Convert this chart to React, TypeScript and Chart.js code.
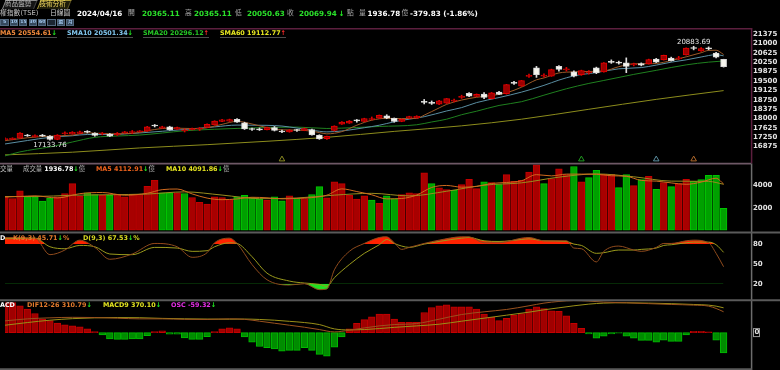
import React, { useEffect, useRef } from 'react';
import { Chart, registerables } from 'chart.js';

Chart.register(...registerables);

// ---------------- data ----------------
const OPEN = [17145,17160,17210,17340,17275,17340,17290,17160,17390,17380,
  17400,17470,17410,17380,17380,17340,17430,17440,17470,17490,
  17720,17610,17670,17570,17510,17550,17570,17640,17740,17880,
  17890,17970,17830,17590,17580,17550,17640,17500,17460,17540,
  17520,17560,17340,17190,17520,17770,17810,17920,17880,17960,
  18010,18110,18010,17880,18010,18020,18670,18640,18570,18610,
  18690,18840,19000,18880,18970,18790,19050,18990,19430,19290,
  19680,20020,19690,19690,20080,19940,19860,19750,19820,20020,
  19860,20260,20230,20220,20140,20190,20180,20370,20340,20410,
  20380,20540,20820,20700,20800,20610,20365.11];
const HIGH = [17225,17230,17435,17365,17350,17365,17320,17355,17470,17475,
  17495,17515,17430,17440,17400,17440,17480,17520,17515,17685,
  17760,17690,17690,17655,17580,17615,17640,17785,17910,17965,
  17975,17995,17850,17615,17620,17660,17680,17540,17555,17570,
  17620,17580,17350,17300,17710,17880,17920,17960,18010,18060,
  18140,18150,18020,17980,18090,18110,18760,18700,18720,18800,
  18770,18930,19030,18980,19030,19040,19080,19360,19480,19520,
  19770,20080,19780,19970,20110,20040,19900,19930,19910,20050,
  20230,20340,20290,20420,20210,20220,20370,20400,20530,20450,
  20480,20820,20883.69,20830,20860,20640,20365.11];
const LOW = [17140,17150,17200,17285,17250,17280,17133.76,17150,17360,17370,
  17390,17420,17290,17350,17280,17320,17410,17400,17460,17480,
  17660,17600,17530,17560,17460,17540,17520,17630,17730,17870,
  17880,17840,17560,17520,17520,17540,17500,17430,17450,17480,
  17510,17330,17165,17160,17500,17760,17800,17850,17870,17940,
  18000,17990,17850,17870,18000,18010,18580,18560,18550,18600,
  18660,18800,18870,18870,18790,18780,18950,18970,19360,19280,
  19640,19640,19650,19680,19890,19890,19660,19720,19770,19790,
  19850,20200,20170,19830,20100,20100,20170,20230,20330,20290,
  20350,20530,20740,20680,20740,20420,20050.63];
const CLOSE = [17200,17215,17420,17300,17298,17290,17160,17340,17430,17450,
  17470,17450,17320,17410,17290,17400,17460,17470,17500,17670,
  17700,17670,17550,17640,17530,17600,17610,17770,17900,17950,
  17960,17850,17580,17560,17545,17640,17520,17460,17540,17520,
  17600,17340,17180,17290,17700,17860,17900,17905,18000,17990,
  18130,18010,17880,17970,18080,18090,18640,18600,18700,18790,
  18720,18870,18890,18960,18840,19020,18960,19350,19400,19510,
  19710,19750,19720,19950,19960,19980,19690,19910,19850,19820,
  20220,20240,20210,20080,20170,20130,20350,20250,20520,20310,
  20420,20810,20795,20790,20780,20449.77,20069.94];
const VOLUME = [3027,2823,3505,2974,2974,2584,2850,2974,3266,4151,
  3027,3328,3177,3115,3115,3177,2974,3204,3177,3912,
  4443,3328,3328,3328,3266,2912,2469,2319,2974,2912,
  2735,2974,3115,2912,2761,2673,2974,2620,3062,2823,
  2823,3177,3885,2885,4301,4151,3115,2761,3062,2673,
  2381,3062,2823,3177,3328,3266,5124,4151,3770,3620,
  3558,4062,4531,3708,4301,4239,4062,4947,4354,4443,
  5186,5832,4151,4593,5478,4947,5682,4301,4682,5328,
  4974,4974,3797,4947,3974,4505,4797,3646,4239,3885,
  4151,4531,4354,4505,4885,4885,1936.78];
const OSC = [88,88,78.5,68.6,56,39.5,35,28,23,20,
  17,10.7,3,-7,-18.6,-19.8,-19.8,-18.6,-18.6,-8.7,
  2.9,4.8,-4.8,-4.8,-15.6,-19.8,-19.8,-12,3,10.7,
  13.6,10.7,-12.6,-28,-40.7,-44.6,-47.6,-54.4,-52.4,-52.4,
  -44.6,-52.4,-64,-69,-42.7,-12.6,10.7,27,37.8,46.5,
  54,54,39.5,30,30,30,59,73.6,78.5,81.4,
  75.6,75.6,75.6,68.6,54,44.5,35,41.6,51,56,
  68.6,75.6,70.7,64,62,49.4,27,12.5,-4,-16.6,
  -10.8,-4,-2,-10.8,-16.6,-23,-23,-28,-22,-26,
  -26,-7,3.8,3.8,2,-22,-59.32];

// moving-average / indicator lines, read as [day index, value]
const MA5_PTS = [[0,17112],[3,17230],[6,17294],[9,17334],[11,17428],[14,17388],[17,17406],[20,17560],[22,17618],[25,17598],[27,17630],[29,17766],[31,17886],[33,17780],[35,17635],[37,17545],[39,17536],[41,17492],[42,17436],[43,17386],[45,17474],[47,17731],[49,17931],[51,18007],[53,17996],[55,18006],[56,18132],[58,18422],[59,18564],[61,18736],[63,18846],[65,18916],[67,19026],[69,19248],[71,19544],[72,19618],[74,19818],[76,19860],[78,19878],[80,19898],[82,20068],[84,20184],[86,20188],[87,20196],[89,20312],[91,20462],[93,20625],[94,20719],[95,20725],[96,20554.61]];
const SMA10_PTS = [[0,16982],[3,17120],[6,17247],[9,17310],[11,17361],[14,17361],[18,17422],[21,17489],[24,17559],[28,17664],[31,17736],[33,17731],[35,17725],[37,17697],[39,17618],[41,17531],[43,17464],[45,17501],[48,17630],[50,17730],[52,17867],[54,17973],[56,18070],[59,18300],[61,18434],[63,18634],[66,18835],[69,19052],[72,19322],[74,19533],[76,19702],[79,19834],[82,19983],[85,20032],[87,20132],[89,20248],[91,20340],[93,20455],[95,20547],[96,20501.34]];
const SMA20_PTS = [[0,16506],[2,16665],[4,16770],[6,16863],[9,17060],[12,17246],[15,17300],[18,17338],[21,17420],[24,17508],[28,17570],[31,17603],[35,17643],[39,17655],[43,17600],[47,17640],[50,17681],[55,17748],[57,17860],[59,17971],[61,18150],[63,18290],[66,18520],[69,18670],[72,18930],[75,19186],[78,19400],[80,19518],[84,19760],[87,19922],[91,20140],[94,20250],[96,20296.12]];
const SMA60_PTS = [[0,16546],[9,16653],[18,16823],[27,16954],[35,17089],[43,17247],[52,17484],[61,17706],[69,17971],[78,18367],[87,18763],[96,19112.77]];
const VOL_MA5_PTS = [[0,2950],[2,3000],[4,3061],[7,2871],[10,3254],[13,3360],[16,3112],[19,3289],[21,3613],[23,3668],[25,3232],[27,2859],[29,2717],[31,2783],[33,2930],[35,2887],[37,2788],[39,2830],[41,2901],[43,3119],[45,3680],[47,3443],[49,3152],[51,2788],[53,2823],[55,3131],[57,3809],[59,3986],[61,3832],[63,3896],[65,4168],[67,4251],[69,4409],[71,4952],[73,4841],[75,5000],[77,5000],[79,4988],[81,4852],[83,4804],[85,4439],[87,4374],[89,4214],[91,4090],[93,4285],[95,4632],[96,4112.91]];
const VOL_MA10_PTS = [[0,3000],[4,3000],[9,3113],[14,3159],[19,3221],[24,3414],[29,3128],[34,2808],[39,2865],[44,3122],[49,3283],[54,3053],[59,3470],[64,4009],[69,4221],[74,4729],[79,5018],[84,4761],[89,4374],[94,4350],[96,4091.86]];
const K_PTS = [[0,90],[4,89],[6,64],[8,71],[10,86],[12,75],[14,57],[17,65],[20,81],[23,76],[25,60],[27,67],[28,82],[30,89],[31,81],[33,49],[35,26],[38,18],[40,20],[42,11],[43,12],[44,41],[46,69],[48,81],[50,90],[51,91],[52,82],[53,72],[54,75],[56,81],[58,86],[61,91],[62,91],[64,82],[66,82],[69,89],[70,90],[72,85],[75,85],[76,74],[77,73],[79,53],[80,69],[82,77],[84,71],[85,69],[87,75],[88,81],[89,81],[91,85],[92,86],[94,82],[95,66],[96,45.71]];
const D_PTS = [[0,88],[4,89],[6,76],[8,73],[10,78],[12,76],[14,65],[17,64],[20,75],[23,74],[25,69],[27,70],[28,76],[30,82],[31,81],[33,61],[35,36],[38,24],[40,21],[42,19],[43,16],[44,29],[46,49],[48,66],[50,79],[51,87],[52,81],[53,77],[54,75],[56,80],[58,84],[61,89],[62,90],[64,85],[66,84],[69,87],[70,88],[72,85],[75,84],[76,80],[77,78],[79,66],[80,67],[82,71],[84,71],[85,72],[87,74],[88,78],[89,79],[91,82],[92,83],[94,83],[95,79],[96,67.53]];
const DIF_PTS = [[0,175],[3,205],[6,220],[9,228],[12,225],[15,215],[18,205],[21,205],[24,198],[27,196],[30,205],[32,198],[34,170],[36,140],[38,110],[40,80],[42,45],[44,10],[46,35],[48,70],[50,100],[52,120],[55,135],[58,200],[61,270],[64,310],[67,345],[70,400],[72,440],[74,465],[76,478],[78,470],[80,455],[83,445],[86,432],[89,420],[92,410],[94,395],[95,360],[96,310.79]];
const SIGNAL_PTS = [[0,110],[3,150],[6,185],[9,208],[12,220],[15,225],[18,222],[21,212],[24,206],[27,202],[30,200],[32,202],[34,196],[36,185],[38,168],[40,150],[42,120],[44,55],[46,40],[48,45],[50,60],[52,78],[55,100],[58,125],[61,170],[64,215],[67,260],[70,305],[72,340],[74,370],[76,400],[78,425],[80,440],[83,445],[86,440],[89,432],[92,420],[94,410],[95,395],[96,370.10]];

const PRICE_TICKS = [21375,21000,20625,20250,19875,19500,19125,18750,18375,18000,17625,17250,16875];
const VOLUME_TICKS = [4000, 2000];
const KD_TICKS = [80, 50, 20];
const MACD_TICKS = [0];
const CROSS_IDX = [37, 77, 87, 92];
const CROSS_PRICE = 16370;

// ---------------- layout / style ----------------
const W = 780, H = 370;
const AREA = { top: 29, bottom: 368, right: 29 };
const X_MIN = 0, X_MAX = 99.66;
const PANELS = {
  price: { top: 29, bottom: 163, lo: 16269, hi: 21573 },
  volume: { top: 163, bottom: 231.9, lo: 0, hi: 6098 },
  kd: { top: 232.7, bottom: 299.3, lo: 0, hi: 100 },
  dif: { top: 300.7, bottom: 368, lo: -484, hi: 512 },
  osc: { top: 300.7, bottom: 368, lo: -95.1, hi: 100.6 },
};
function band(p: { top: number; bottom: number; lo: number; hi: number }) {
  const per = (p.hi - p.lo) / (p.bottom - p.top);
  return { min: p.lo - (AREA.bottom - p.bottom) * per, max: p.hi + (p.top - AREA.top) * per };
}
const CROSS_COLORS = ['#8a8a22', '#1f9a1f', '#5a8ea0', '#b0682a'];
const FONT = '"DejaVu Sans", "Noto Sans CJK TC", sans-serif';
const C = {
  red: '#ff2a2a', green: '#22ee22',
  ma5: '#9c5a28', sma10: '#5a8ea2', sma20: '#1f801f', sma60: '#8c8c1c',
  k: '#8e4a1c', d: '#9a9a1c', dif: '#9a521e', sig: '#9a9018',
  vma5: '#d06a1e', vma10: '#9a8c1e',
};

const pts = (a: number[][]) => a.map(([x, y]) => ({ x, y }));
const line = (a: number[][], axis: string, color: string, extra: any = {}) => ({
  type: 'line', yAxisID: axis, data: pts(a), borderColor: color, borderWidth: 1,
  pointRadius: 0, cubicInterpolationMode: 'monotone', fill: false, order: 1, ...extra,
});

const framePlugin = {
  id: 'frame',
  beforeDraw(chart: any) {
    const ctx = chart.ctx;
    ctx.save();
    ctx.fillStyle = '#000';
    ctx.fillRect(0, 0, chart.width, chart.height);
    ctx.restore();
  },
  afterDraw(chart: any) {
    const { ctx, scales, chartArea } = chart;
    const R = chartArea.right;
    ctx.save();
    const seg = (x0: number, y0: number, x1: number, y1: number, color: string, w: number) => {
      ctx.strokeStyle = color; ctx.lineWidth = w;
      ctx.beginPath(); ctx.moveTo(x0, y0); ctx.lineTo(x1, y1); ctx.stroke();
    };
    seg(0, 28.7, R + 1.2, 28.7, '#5c1f3e', 1.5);
    seg(R + 0.6, 28, R + 0.6, 163.5, '#5c1f3e', 1.5);
    seg(0, 163.6, R, 163.6, '#6e5866', 1.6);
    seg(R + 0.6, 163.5, R + 0.6, 370, '#6c6c6c', 1.5);
    seg(0, 232.6, W, 232.6, '#5a5a5a', 2);
    seg(0, 300.2, W, 300.2, '#5a5a5a', 2);
    seg(0, 369.2, R + 1, 369.2, '#5a5a5a', 2);

    ctx.font = `bold 7px ${FONT}`;
    ctx.fillStyle = '#e4e4e4';
    ctx.textAlign = 'left';
    ctx.textBaseline = 'middle';
    const lx = R + 2;
    PRICE_TICKS.forEach(v => ctx.fillText(String(v), lx, scales.yP.getPixelForValue(v)));
    VOLUME_TICKS.forEach(v => ctx.fillText(String(v), lx, scales.yV.getPixelForValue(v)));
    KD_TICKS.forEach(v => ctx.fillText(String(v), lx, scales.yK.getPixelForValue(v)));
    MACD_TICKS.forEach(v => {
      const y = scales.yO.getPixelForValue(v);
      ctx.fillText(String(v), lx + 1.5, y);
      ctx.strokeStyle = '#9a9a9a'; ctx.lineWidth = 1;
      ctx.strokeRect(lx + 0.5, y - 4, 6, 8);
    });

    // highest high / lowest low labels
    let hi = 0, lo = 0;
    HIGH.forEach((v, i) => { if (v > HIGH[hi]) hi = i; });
    LOW.forEach((v, i) => { if (v < LOW[lo]) lo = i; });
    ctx.font = `7px ${FONT}`;
    ctx.fillStyle = '#e8e8e8';
    ctx.textAlign = 'center';
    ctx.textBaseline = 'bottom';
    ctx.fillText(HIGH[hi].toFixed(2), scales.x.getPixelForValue(hi), scales.yP.getPixelForValue(HIGH[hi]) - 1);
    ctx.textBaseline = 'top';
    ctx.fillText(LOW[lo].toFixed(2), scales.x.getPixelForValue(lo), scales.yP.getPixelForValue(LOW[lo]) + 1.5);
    ctx.restore();
  },
};

function Txt(p: { x: number; cy: number; size?: number; bold?: boolean; color: string; lh?: number; underline?: boolean; children: any }) {
  const size = p.size ?? 6.4;
  const lh = p.lh ?? 1;
  const capMid = (lh - 1.164) / 2 + 0.928 - 0.365;
  return (
    <div style={{
      position: 'absolute', left: p.x, top: p.cy - capMid * size, fontSize: size,
      lineHeight: `${lh * size}px`, fontWeight: p.bold ? 700 : 400, color: p.color,
      whiteSpace: 'nowrap', fontFamily: FONT,
      borderBottom: p.underline ? '1.2px solid #4c4c4c' : undefined,
    }}>{p.children}</div>
  );
}
const Dn = () => <span style={{ color: C.green, fontWeight: 700 }}>↓</span>;
const Up = () => <span style={{ color: C.red, fontWeight: 700 }}>↑</span>;
const Gy = (p: { children: any }) => <span style={{ color: '#b8b8b8', fontWeight: 400 }}>{p.children}</span>;

export default function App() {
  const ref = useRef<HTMLCanvasElement>(null);
  useEffect(() => {
    document.body.style.margin = '0';
    document.body.style.background = '#000';
    const upBody = (i: number) => CLOSE[i] >= OPEN[i];
    const upDay = (i: number) => (i === 0 ? CLOSE[0] >= OPEN[0] : CLOSE[i] >= CLOSE[i - 1]);
    const idx = CLOSE.map((_, i) => i);
    const chart = new Chart(ref.current as HTMLCanvasElement, {
      type: 'bar',
      data: {
        datasets: [
          {
            type: 'bar', yAxisID: 'yP', order: 0, grouped: false,
            data: idx.map(i => ({ x: i, y: [OPEN[i], CLOSE[i]] })),
            backgroundColor: idx.map(i => (upBody(i) ? '#9c0000' : '#f6f6ee')),
            borderColor: idx.map(i => (upBody(i) ? '#e00000' : '#d8d8d8')),
            borderWidth: 1, borderSkipped: false, barThickness: 6, minBarLength: 1,
          },
          {
            type: 'bar', yAxisID: 'yP', order: 0.5, grouped: false,
            data: idx.map(i => ({ x: i, y: [LOW[i], HIGH[i]] })),
            backgroundColor: idx.map(i => (upBody(i) ? '#e00000' : '#dcdcdc')),
            borderWidth: 0, barThickness: 1,
          },
          line(MA5_PTS, 'yP', C.ma5),
          line(SMA10_PTS, 'yP', C.sma10),
          line(SMA20_PTS, 'yP', C.sma20),
          line(SMA60_PTS, 'yP', C.sma60),
          {
            type: 'scatter', yAxisID: 'yP', order: 0,
            data: CROSS_IDX.map(i => ({ x: i, y: CROSS_PRICE })),
            pointStyle: 'triangle', pointRadius: 3.2, borderWidth: 1,
            borderColor: CROSS_COLORS, backgroundColor: 'rgba(0,0,0,0)',
          },
          {
            type: 'bar', yAxisID: 'yV', order: 3, grouped: false,
            data: idx.map(i => ({ x: i, y: VOLUME[i] })),
            backgroundColor: idx.map(i => (upDay(i) ? '#a80000' : '#00a000')),
            borderColor: idx.map(i => (upDay(i) ? '#c40000' : '#00c400')),
            borderWidth: 1, borderSkipped: false, barThickness: 6.7,
          },
          line(VOL_MA5_PTS, 'yV', C.vma5),
          line(VOL_MA10_PTS, 'yV', C.vma10),
          line(K_PTS, 'yK', C.k, { fill: { target: { value: 80 }, above: '#ff2200', below: 'rgba(0,0,0,0)' } }),
          line(D_PTS, 'yK', C.d, { fill: { target: { value: 80 }, above: '#ff2200', below: 'rgba(0,0,0,0)' } }),
          line(K_PTS, 'yK', 'rgba(0,0,0,0)', { borderWidth: 0, fill: { target: { value: 20 }, above: 'rgba(0,0,0,0)', below: '#22e022' } }),
          {
            type: 'bar', yAxisID: 'yO', order: 3, grouped: false,
            data: idx.map(i => ({ x: i, y: OSC[i] })),
            backgroundColor: idx.map(i => (OSC[i] >= 0 ? '#a00000' : '#008c00')),
            borderColor: idx.map(i => (OSC[i] >= 0 ? '#c40000' : '#00bb00')),
            borderWidth: 1, borderSkipped: false, barThickness: 6.7,
          },
          line(DIF_PTS, 'yD', C.dif),
          line(SIGNAL_PTS, 'yD', C.sig),
        ] as any,
      },
      options: {
        responsive: false,
        devicePixelRatio: 1,
        animation: false,
        events: [],
        layout: { padding: { left: 0, right: AREA.right, top: AREA.top, bottom: H - AREA.bottom } },
        plugins: { legend: { display: false }, tooltip: { enabled: false }, filler: { drawTime: 'beforeDatasetsDraw' } as any },
        scales: {
          x: { type: 'linear', min: X_MIN, max: X_MAX, display: false, offset: false, grid: { offset: false } },
          yP: { type: 'linear', display: false, ...band(PANELS.price) },
          yV: { type: 'linear', display: false, ...band(PANELS.volume) },
          yK: { type: 'linear', display: false, ...band(PANELS.kd) },
          yD: { type: 'linear', display: false, ...band(PANELS.dif) },
          yO: { type: 'linear', display: false, ...band(PANELS.osc) },
        },
      } as any,
      plugins: [framePlugin],
    });
    return () => chart.destroy();
  }, []);

  const buttons = ['5', '10', '15', '30', '60', '', '週', '月'];
  const NUM = 7.2;
  return (
    <div style={{ position: 'fixed', left: 0, top: 0, width: W, height: H, background: '#000', overflow: 'hidden', fontFamily: FONT }}>
      <canvas ref={ref} width={W} height={H} style={{ position: 'absolute', left: 0, top: 0, width: W, height: H }} />

      {/* tabs */}
      <div style={{ position: 'absolute', left: 2, top: 0, width: 32, height: 9, boxSizing: 'border-box', borderTop: '1px solid #8c8c8c', borderLeft: '1px solid #8c8c8c', borderRight: '1px solid #444', background: '#141414', transform: 'skewX(-22deg)', transformOrigin: 'bottom left' }} />
      <Txt x={5} cy={4.6} size={6.6} color="#b6b6b6">商品盤勢</Txt>
      <div style={{ position: 'absolute', left: 37, top: 0, width: 31, height: 9, boxSizing: 'border-box', borderTop: '1px solid #a89838', borderLeft: '1px solid #a89838', borderRight: '1px solid #5a5020', background: '#1e1c0a', transform: 'skewX(-22deg)', transformOrigin: 'bottom left' }} />
      <Txt x={39.5} cy={4.6} size={6.6} color="#f2d860">技術分析</Txt>

      {/* header line */}
      <Txt x={-6.8} cy={13.2} size={6.8} color="#c4c4c4">加權指數(TSE)</Txt>
      <Txt x={50} cy={13.2} size={6.8} color="#d0d0d0">日線圖</Txt>
      <Txt x={77} cy={13.2} size={NUM} bold color="#ffffff">2024/04/16</Txt>
      <Txt x={128} cy={13.2} size={6.8} color="#a8a8a8">開</Txt>
      <Txt x={142} cy={13.2} size={NUM} bold color="#2ae02a">20365.11</Txt>
      <Txt x={185} cy={13.2} size={6.8} color="#a8a8a8">高</Txt>
      <Txt x={194} cy={13.2} size={NUM} bold color="#2ae02a">20365.11</Txt>
      <Txt x={235} cy={13.2} size={6.8} color="#a8a8a8">低</Txt>
      <Txt x={247} cy={13.2} size={NUM} bold color="#2ae02a">20050.63</Txt>
      <Txt x={287} cy={13.2} size={6.8} color="#a8a8a8">收</Txt>
      <Txt x={299} cy={13.2} size={NUM} bold color="#2ae02a">20069.94</Txt>
      <Txt x={338.5} cy={13.2} size={NUM} bold color={C.green}>↓</Txt>
      <Txt x={347} cy={13.2} size={6.8} color="#a8a8a8">點</Txt>
      <Txt x={359} cy={13.2} size={6.8} color="#a8a8a8">量</Txt>
      <Txt x={367.5} cy={13.2} size={NUM} bold color="#ffffff">1936.78</Txt>
      <Txt x={401.5} cy={13.2} size={6.8} color="#a8a8a8">億</Txt>
      <Txt x={410} cy={13.2} size={NUM} bold color="#ffffff">-379.83 (-1.86%)</Txt>

      {/* period buttons */}
      {buttons.map((b, i) => (
        <div key={i} style={{ position: 'absolute', left: 0.4 + i * 9.4, top: 19.3, width: 8.2, height: 6.8, boxSizing: 'border-box', background: i === 5 ? '#1c2632' : '#36495e', border: '1px solid #52687f', color: '#a2c8ee', fontSize: 4.6, lineHeight: '4.8px', textAlign: 'center', fontFamily: FONT, fontWeight: 700, overflow: 'hidden' }}>{b}</div>
      ))}

      {/* price legend */}
      <Txt x={-4.6} cy={34} bold lh={0.85} underline color="#f08a3c">SMA5 20554.61<Dn /></Txt>
      <Txt x={67} cy={34} bold lh={0.85} underline color="#82c8f0">SMA10 20501.34<Dn /></Txt>
      <Txt x={143} cy={34} bold lh={0.85} underline color="#26c826">SMA20 20296.12<Up /></Txt>
      <Txt x={220} cy={34} bold lh={0.85} underline color="#e8e820">SMA60 19112.77<Up /></Txt>

      {/* volume legend */}
      <Txt x={-6.4} cy={168.8} color="#c4c4c4">成交量</Txt>
      <Txt x={23} cy={168.8} bold color="#ffffff"><Gy>成交量 </Gy>1936.78<Dn /><Gy>億</Gy></Txt>
      <Txt x={96} cy={168.8} bold color="#ec621c">MA5 4112.91<Dn /><Gy>億</Gy></Txt>
      <Txt x={166} cy={168.8} bold color="#e4e420">MA10 4091.86<Dn /><Gy>億</Gy></Txt>

      {/* KD legend */}
      <Txt x={-5} cy={237.6} bold color="#ffffff">KD</Txt>
      <Txt x={13} cy={237.6} bold color="#e27a2c">K(9,3) 45.71<Dn /><span style={{ color: '#e27a2c' }}>%</span></Txt>
      <Txt x={83} cy={237.6} bold color="#dada22">D(9,3) 67.53<Dn /><span style={{ color: '#dada22' }}>%</span></Txt>

      {/* MACD legend */}
      <Txt x={-6.4} cy={305.5} bold color="#ffffff">MACD</Txt>
      <Txt x={27} cy={305.5} bold color="#e27a2c">DIF12-26 310.79<Dn /></Txt>
      <Txt x={103} cy={305.5} bold color="#e4e420">MACD9 370.10<Dn /></Txt>
      <Txt x={171} cy={305.5} bold color="#e62ee6">OSC -59.32<Dn /></Txt>
    </div>
  );
}
